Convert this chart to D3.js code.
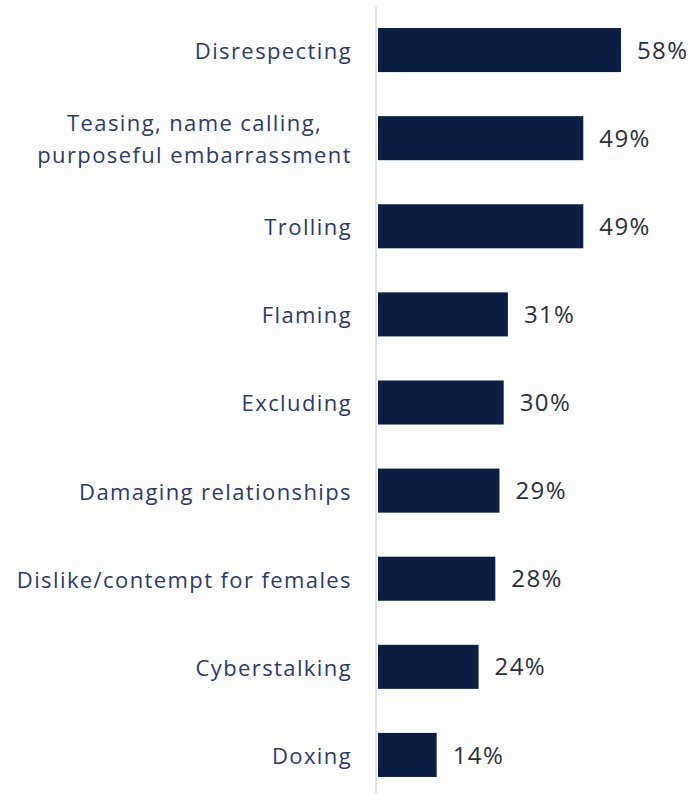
<!DOCTYPE html>
<html>
<head>
<meta charset="utf-8">
<script src="https://cdn.jsdelivr.net/npm/d3@7"></script>
<style>
  html, body { margin: 0; padding: 0; background: #fff; }
  svg { display: block; }
</style>
</head>
<body>
<svg id="chart" width="692" height="794"></svg>
<script>
// Forms of online harassment, share of respondents
const categories = [
  ["Disrespecting"],
  ["Teasing, name calling,", "purposeful embarrassment"],
  ["Trolling"],
  ["Flaming"],
  ["Excluding"],
  ["Damaging relationships"],
  ["Dislike/contempt for females"],
  ["Cyberstalking"],
  ["Doxing"]
];
const values = [58, 49, 49, 31, 30, 29, 28, 24, 14];
const valueLabels = ["58%", "49%", "49%", "31%", "30%", "29%", "28%", "24%", "14%"];

const W = 692, H = 794;
const axisX = 376;
const labelRight = 352;
const svg = d3.select("#chart");

const x = d3.scaleLinear().domain([0, 58]).range([378, 621]);
const y = d3.scaleBand()
  .domain(d3.range(values.length))
  .range([6, 799])
  .paddingInner(0.5)
  .paddingOuter(0.25);

// baseline
svg.append("line")
  .attr("x1", axisX).attr("x2", axisX)
  .attr("y1", 7).attr("y2", H)
  .attr("stroke", "#cfd6de").attr("stroke-width", 1.3);

// bars
svg.selectAll("rect.bar")
  .data(values)
  .join("rect")
  .attr("class", "bar")
  .attr("x", x(0))
  .attr("y", (d, i) => y(i))
  .attr("width", d => x(d) - x(0))
  .attr("height", y.bandwidth())
  .attr("fill", "#0b1f45");

// value labels
svg.selectAll("text.val")
  .data(values)
  .join("text")
  .attr("class", "val")
  .attr("x", d => x(d) + 16)
  .attr("y", (d, i) => y(i) + y.bandwidth() / 2)
  .attr("dy", "0.36em")
  .attr("font-family", "'Open Sans', sans-serif")
  .attr("font-size", 24)
  .attr("letter-spacing", 1.4)
  .attr("fill", "#2b2f3d")
  .text((d, i) => valueLabels[i]);

// category labels: a multi-line label is a centred block whose widest line ends at labelRight
const cat = svg.selectAll("text.cat")
  .data(categories)
  .join("text")
  .attr("class", "cat")
  .attr("text-anchor", "middle")
  .attr("font-family", "'Open Sans', sans-serif")
  .attr("font-size", 22)
  .attr("letter-spacing", 1.4)
  .attr("fill", "#2a3a6e")
  .attr("transform", (d, i) => `translate(0, ${y(i) + y.bandwidth() / 2 + 1})`);

cat.selectAll("tspan")
  .data(d => d.map((t, j) => ({ t, j, n: d.length })))
  .join("tspan")
  .attr("y", d => (d.j - (d.n - 1) / 2) * 32)
  .attr("dy", "0.36em")
  .text(d => d.t);

cat.each(function () {
  const spans = d3.select(this).selectAll("tspan");
  const widest = d3.max(spans.nodes(), n => n.getComputedTextLength());
  spans.attr("x", labelRight - widest / 2);
});
</script>
</body>
</html>
